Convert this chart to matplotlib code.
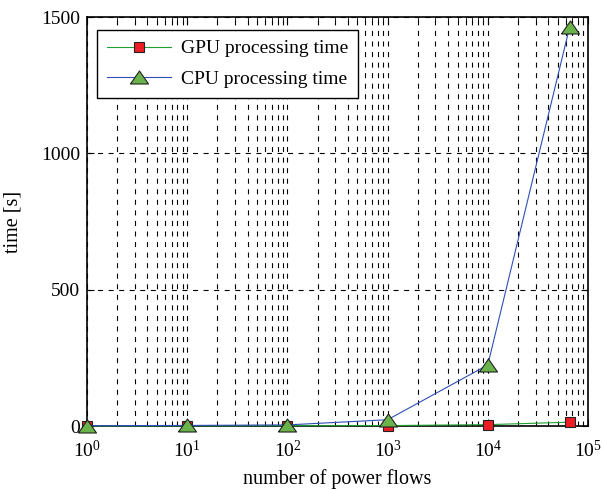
import matplotlib
matplotlib.use("Agg")
import matplotlib.pyplot as plt
import numpy as np

# ── data ──────────────────────────────────────────────────────────────────────
n_flows  = [1, 10, 100, 1000, 10000, 65536]
gpu_time = [0.5, 0.7, 1.0, 1.5, 5, 14]
cpu_time = [1, 2, 4, 23, 224, 1463]

y_ticks = [0, 500, 1000, 1500]

plt.rcParams["font.family"] = ["Liberation Serif", "DejaVu Serif"]
plt.rcParams["mathtext.fontset"] = "stix"

fig = plt.figure(figsize=(6.03, 4.90), dpi=100)
ax = fig.add_axes([87 / 603, 64 / 490, 501 / 603, 409 / 490])

# MATLAB-style wide triangle
tri = [(-1, -0.72), (1, -0.72), (0, 0.72), (-1, -0.72)]

ax.plot(n_flows, gpu_time, "-", color="#1fa032", lw=0.8,
        marker="s", ms=7.8, mfc="#ee1c24", mec="#222222", mew=0.8,
        label="GPU processing time", zorder=3, clip_on=False)
ax.plot(n_flows, cpu_time, "-", color="#2f4fb8", lw=0.8,
        marker=tri, ms=13, mfc="#6ab34a", mec="#222222", mew=0.8,
        label="CPU processing time", zorder=4, clip_on=False)

ax.set_xscale("log")
ax.set_xlim(1, 1e5)
ax.set_ylim(0, 1500)
ax.set_yticks(y_ticks)

dash = (0, (4.5, 5))
ax.grid(True, which="major", axis="both", color="black", lw=0.8, linestyle=dash)
ax.grid(True, which="minor", axis="x", color="black", lw=0.8, linestyle=dash)

ax.tick_params(which="both", direction="in", top=True, right=True, labelsize=14)
ax.tick_params(axis="y", pad=5)
ax.tick_params(axis="x", pad=10)
ax.tick_params(which="major", length=5)
ax.tick_params(which="minor", length=3)
for s in ax.spines.values():
    s.set_linewidth(1.2)

ax.set_xlabel("number of power flows", fontsize=14.5, labelpad=6)
ax.set_ylabel("time [s]", fontsize=14.5, labelpad=13)

leg = ax.legend(loc="upper left", fontsize=14, handlelength=3.3,
                borderpad=0.5, labelspacing=0.68, handletextpad=0.5,
                borderaxespad=0, fancybox=False, framealpha=1,
                edgecolor="black", bbox_to_anchor=(10 / 501, 1 - 13 / 409))
leg.get_frame().set_linewidth(1.0)

fig.savefig("out.png", dpi=100)
